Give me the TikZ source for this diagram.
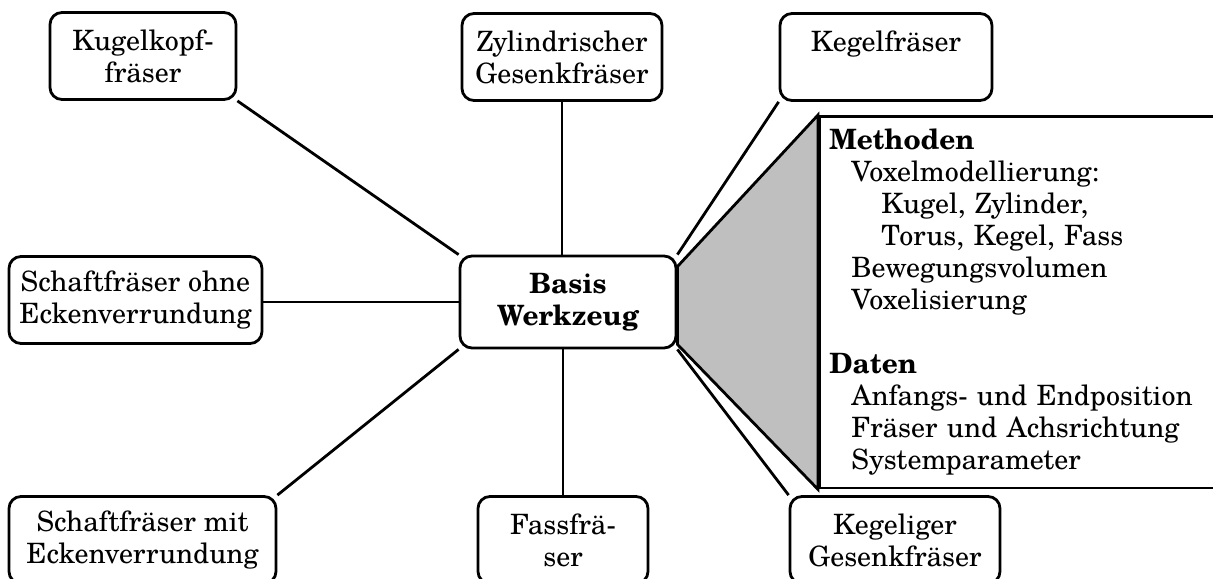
\documentclass[tikz,border=0pt]{standalone}
\usepackage{fontspec}
\setmainfont{TeX Gyre Schola}
\usetikzlibrary{positioning}

\begin{document}
\begin{tikzpicture}[
x=0.5pt, y=0.5pt,
line width=1.4pt,
    T/.style = {rectangle, draw, rounded corners=6pt,% styles of tool nodes
                align=center, inner sep=0pt, minimum height=43.5pt,
                font=\fontsize{14}{16}\selectfont},
    B/.style = {T, minimum height=46pt,
                font=\fontsize{14}{16}\selectfont\bfseries},
    I/.style = {rectangle, draw, anchor=north west, align=left,% style of the info box
                inner xsep=5pt, inner ysep=6.3pt, text width=200pt,
                font=\fontsize{14}{16}\selectfont},
                        ]
\useasboundingbox (0,0) rectangle (1213,578);
% tool nodes
\node[T, minimum width=93pt]    (kugel)   at (143,522)   {Kugelkopf-\\fräser};
\node[T, minimum width=100pt]   (zyl)     at (562,521)   {Zylindrischer\\Gesenkfräser};
\node[T, minimum width=106pt]   (kegel)   at (886,521)   {Kegelfräser\\ \mbox{}};
\node[T, minimum width=126.5pt] (sohne)   at (135.5,278) {Schaftfräser ohne\\Eckenverrundung};
\node[B, minimum width=108pt]   (basis)   at (568,276)   {Basis\\Werkzeug};
\node[T, minimum width=133.5pt] (smit)    at (142.5,38)  {Schaftfräser mit\\Eckenverrundung};
\node[T, minimum width=85pt]    (fass)    at (563,38)    {Fassfrä-\\ser};
\node[T, minimum width=105pt]   (kegelig) at (895,38)    {Kegeliger\\Gesenkfräser};
% info box
\node[I] (info) at (818,463) {\textbf{Methoden}\\
    \hspace*{11pt}Voxelmodellierung:\\
    \hspace*{26pt}Kugel, Zylinder,\\
    \hspace*{26pt}Torus, Kegel, Fass\\
    \hspace*{11pt}Bewegungsvolumen\\
    \hspace*{11pt}Voxelisierung\\[16pt]
    \textbf{Daten}\\
    \hspace*{11pt}Anfangs- und Endposition\\
    \hspace*{11pt}Fräser und Achsrichtung\\
    \hspace*{11pt}Systemparameter};
\filldraw[fill=gray!50] ([yshift=-6pt]basis.north east) -- (info.north west)
    -- (info.south west) -- ([yshift=2.5pt]basis.south east) -- cycle;
% connectors
\foreach \a/\b in {kugel.south east/basis.north west,
                   kegel.south west/basis.north east,
                   smit.north east/basis.south west,
                   kegelig.north west/basis.south east}% <-- corner to corner
    \draw (\a) -- (\b);
\draw (zyl.south) -- (zyl.south |- basis.north);
\draw (fass.north) -- (fass.north |- basis.south);
\draw (sohne.east |- basis.west) -- (basis.west);
\end{tikzpicture}
\end{document}
